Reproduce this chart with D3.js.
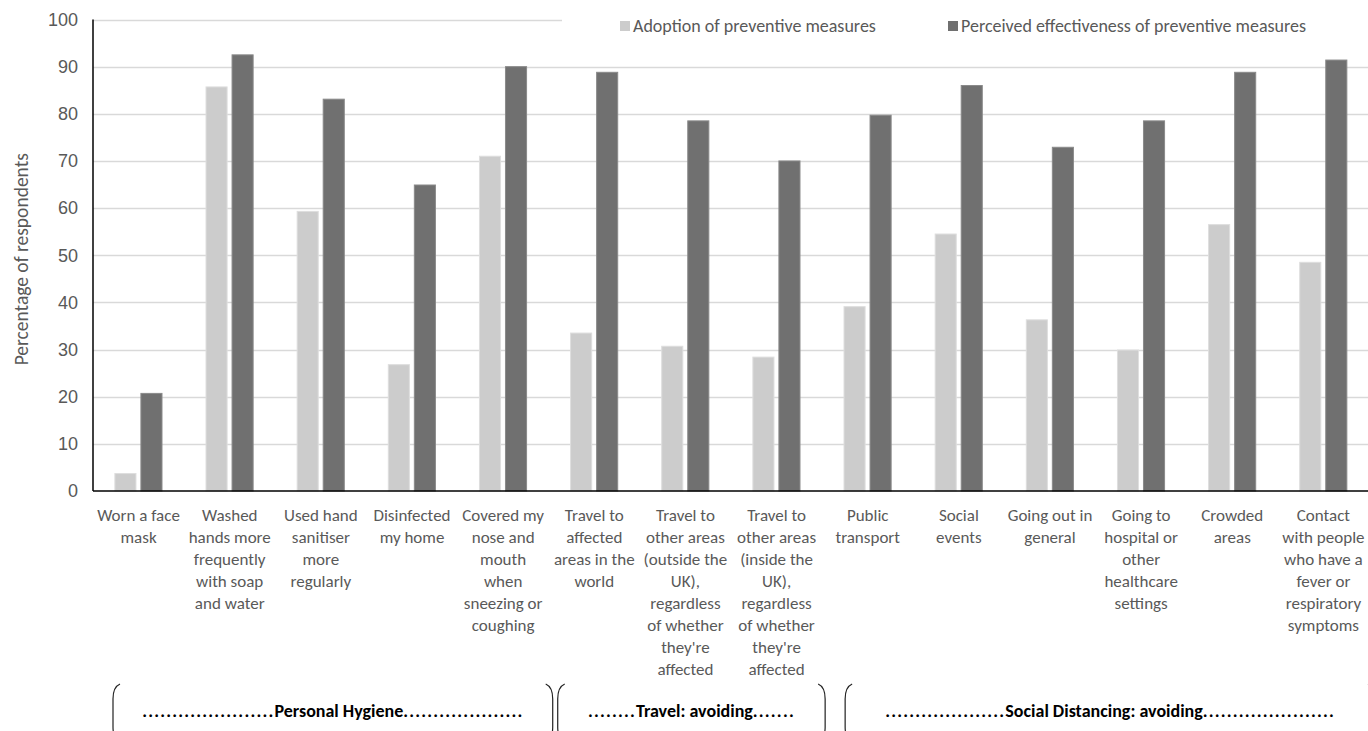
<!DOCTYPE html>
<html>
<head>
<meta charset="utf-8">
<script src="https://cdn.jsdelivr.net/npm/d3@7/dist/d3.min.js"></script>
<style>
  body { margin: 0; background: #fff; }
  svg { display: block; font-family: Calibri, Carlito, Lato, sans-serif; }
</style>
</head>
<body>
<div id="chart"></div>
<script>
// ─── DATA ───────────────────────────────────────────────────────────────────────
const categories = [
  'Worn a face\nmask',
  'Washed\nhands more\nfrequently\nwith soap\nand water',
  'Used hand\nsanitiser\nmore\nregularly',
  'Disinfected\nmy home',
  'Covered my\nnose and\nmouth\nwhen\nsneezing or\ncoughing',
  'Travel to\naffected\nareas in the\nworld',
  'Travel to\nother areas\n(outside the\nUK),\nregardless\nof whether\nthey\'re\naffected',
  'Travel to\nother areas\n(inside the\nUK),\nregardless\nof whether\nthey\'re\naffected',
  'Public\ntransport',
  'Social\nevents',
  'Going out in\ngeneral',
  'Going to\nhospital or\nother\nhealthcare\nsettings',
  'Crowded\nareas',
  'Contact\nwith people\nwho have a\nfever or\nrespiratory\nsymptoms'
]
const seriesNames = ['Adoption of preventive measures', 'Perceived effectiveness of preventive measures']
const adoption = [3.7, 85.7, 59.3, 26.8, 71.0, 33.5, 30.7, 28.4, 39.1, 54.5, 36.3, 29.9, 56.5, 48.5]
const effectiveness = [20.7, 92.5, 83.1, 64.9, 90.0, 88.8, 78.5, 70.0, 79.7, 86.0, 72.9, 78.5, 88.8, 91.4]
const yTicks = [0, 10, 20, 30, 40, 50, 60, 70, 80, 90, 100]
const groupNames = ['......................Personal Hygiene....................',
                    '........Travel: avoiding.......',
                    '....................Social Distancing: avoiding......................']
const groupStart = [0, 5, 8]
const groupEnd = [4, 7, 13]

// ─── SIZE ───────────────────────────────────────────────────────────────────────
const W = 1368, H = 731
const margin = {top: 19.5, left: 93, right: -1, bottom: 240}
const plotBottom = H - margin.bottom   // y of the zero line

const colors = ['#cccccc', '#707070']
const strokes = ['#dedede', '#8a8a8a']
const textGrey = '#595959'

const svg = d3.select('#chart')
  .append('svg')
  .attr('width', W)
  .attr('height', H)

// ─── SCALES ─────────────────────────────────────────────────────────────────────
const x0 = d3.scaleBand()
  .domain(d3.range(categories.length))
  .range([margin.left, W - margin.right])
  .padding(0)

const bw = x0.bandwidth()
const x1 = d3.scaleBand()
  .domain([0, 1])
  .range([bw * 0.24, bw * 0.757])
  .paddingInner(0.19)

const y = d3.scaleLinear()
  .domain([0, 100])
  .range([plotBottom, margin.top])

// ─── GRID ───────────────────────────────────────────────────────────────────────
svg.append('g')
  .selectAll('line')
  .data(yTicks.filter(d => d > 0))
  .join('line')
  .attr('x1', margin.left)
  .attr('x2', W)
  .attr('y1', d => Math.round(y(d)) + 0.5)
  .attr('y2', d => Math.round(y(d)) + 0.5)
  .attr('stroke', '#d9d9d9')
  .attr('stroke-width', 1.3)

// y tick labels
const yAxis = d3.axisLeft(y).tickValues(yTicks).tickSize(0).tickPadding(15)
const gy = svg.append('g')
  .attr('transform', `translate(${margin.left},0)`)
  .call(yAxis)
gy.select('.domain').remove()
gy.selectAll('text')
  .attr('fill', textGrey)
  .style('font-size', '18px')

// y title
svg.append('text')
  .attr('transform', `translate(28, ${(y(0) + y(100)) / 2 + 4}) rotate(-90)`)
  .attr('text-anchor', 'middle')
  .attr('fill', textGrey)
  .style('font-size', '19.5px')
  .text('Percentage of respondents')

// ─── BARS ───────────────────────────────────────────────────────────────────────
const rows = categories.map((c, i) => ({i, vals: [adoption[i], effectiveness[i]]}))

const groups = svg.append('g')
  .selectAll('g')
  .data(rows)
  .join('g')
  .attr('transform', d => `translate(${x0(d.i)},0)`)

groups.selectAll('rect')
  .data(d => d.vals.map((v, s) => ({v, s})))
  .join('rect')
  .attr('x', d => x1(d.s))
  .attr('width', x1.bandwidth())
  .attr('y', d => y(d.v))
  .attr('height', d => y(0) - y(d.v))
  .attr('fill', d => colors[d.s])
  .attr('stroke', d => strokes[d.s])
  .attr('stroke-width', 1)

// ─── AXES LINES ─────────────────────────────────────────────────────────────────
svg.append('line')
  .attr('x1', margin.left).attr('x2', margin.left)
  .attr('y1', y(100)).attr('y2', y(0))
  .attr('stroke', '#000').attr('stroke-width', 1.5)
svg.append('line')
  .attr('x1', margin.left).attr('x2', W)
  .attr('y1', y(0)).attr('y2', y(0))
  .attr('stroke', '#000').attr('stroke-width', 1.5)

// category labels
const lab = svg.append('g')
  .selectAll('text')
  .data(categories)
  .join('text')
  .attr('x', (d, i) => x0(i) + bw / 2)
  .attr('y', y(0) + 30)
  .attr('text-anchor', 'middle')
  .attr('fill', textGrey)
  .style('font-size', '17px')
lab.selectAll('tspan')
  .data(d => d.split('\n'))
  .join('tspan')
  .attr('x', function () { return this.parentNode.getAttribute('x') })
  .attr('dy', (d, i) => i === 0 ? 0 : 22)
  .text(d => d)

// ─── LEGEND ─────────────────────────────────────────────────────────────────────
svg.append('rect')
  .attr('x', 562).attr('y', 6).attr('width', W - 562).attr('height', 40)
  .attr('fill', '#fff')
const legX = [620, 948]
const leg = svg.append('g')
  .selectAll('g')
  .data(seriesNames)
  .join('g')
  .attr('transform', (d, i) => `translate(${legX[i]}, 27)`)
leg.append('rect')
  .attr('x', 0).attr('y', -6).attr('width', 10).attr('height', 10)
  .attr('fill', (d, i) => colors[i])
leg.append('text')
  .attr('x', 13).attr('y', 5)
  .attr('fill', textGrey)
  .style('font-size', '18px')
  .text(d => d)

// ─── GROUP BRACKETS ─────────────────────────────────────────────────────────────
const openPad = [20, 9, 23]
const closePad = [4, 3, 6]
const brTop = 684, brBot = 742
const bracket = (x, dir) =>
  `M${x + dir * 7},${brTop} Q${x},${brTop + 3} ${x},${brTop + 15} L${x},${brBot - 15} Q${x},${brBot - 3} ${x + dir * 7},${brBot}`

groupNames.forEach((name, g) => {
  const xa = x0(groupStart[g]) + openPad[g]
  const xb = x0(groupEnd[g]) + bw + closePad[g]
  svg.append('path').attr('d', bracket(xa, 1))
    .attr('fill', 'none').attr('stroke', '#222').attr('stroke-width', 1.2)
  svg.append('path').attr('d', bracket(xb, -1))
    .attr('fill', 'none').attr('stroke', '#222').attr('stroke-width', 1.2)
  // split dots / words so the dots can be spaced out a bit
  const m = name.match(/^(\.*)(.*?)(\.*)$/)
  const t = svg.append('text')
    .attr('x', (xa + xb) / 2)
    .attr('y', 717)
    .attr('text-anchor', 'middle')
    .attr('fill', '#000')
    .style('font-size', '18px')
    .style('font-weight', 'bold')
  t.append('tspan').style('letter-spacing', '1.2px').text(m[1])
  t.append('tspan').text(m[2])
  t.append('tspan').style('letter-spacing', '1.2px').text(m[3])
})
</script>
</body>
</html>
